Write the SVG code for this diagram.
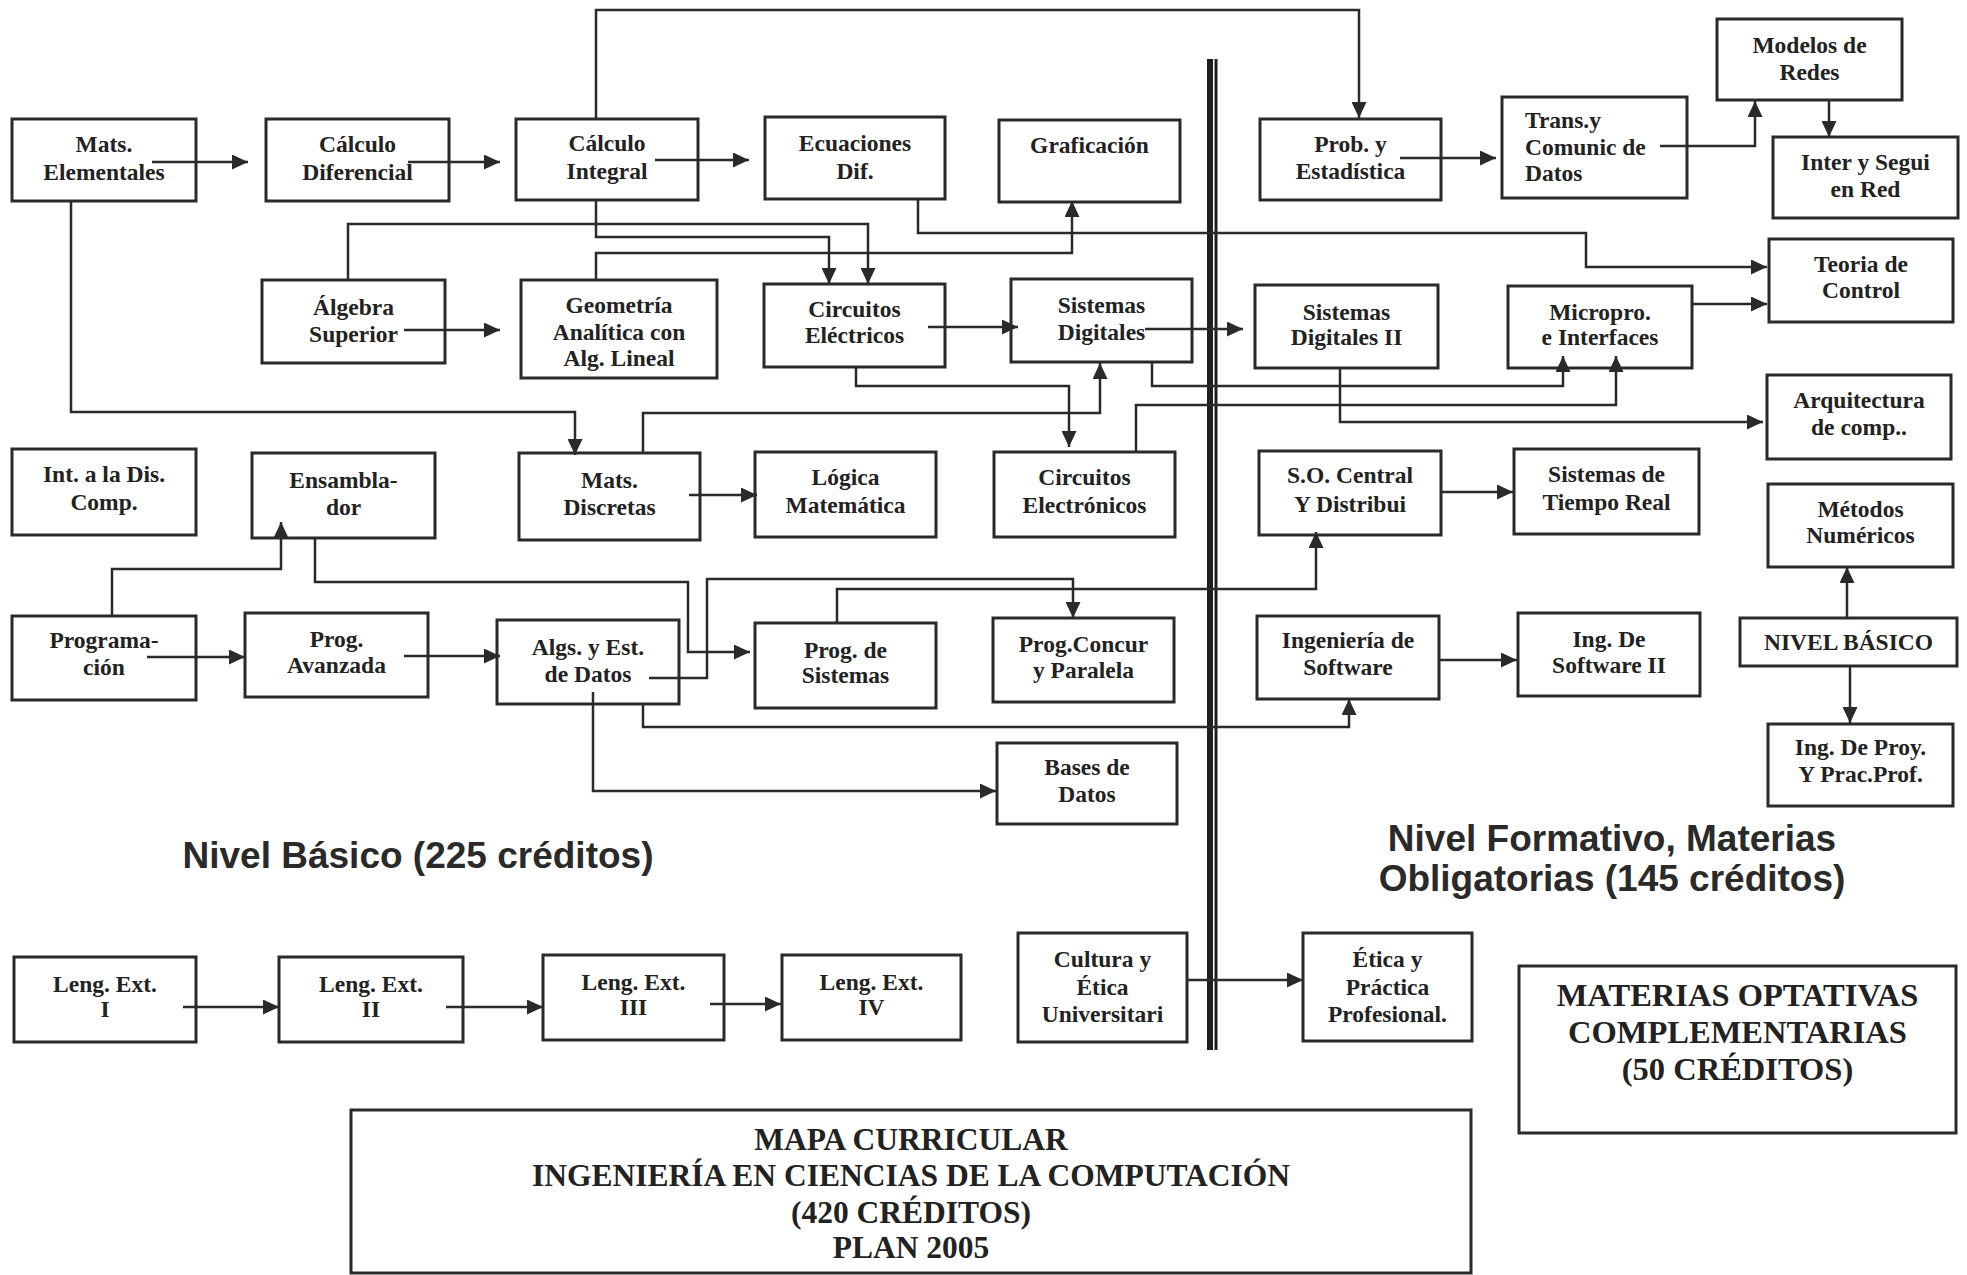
<svg xmlns="http://www.w3.org/2000/svg" width="1967" height="1275" viewBox="0 0 1967 1275">
<style>
.box{fill:none;stroke:#2a2a2a;stroke-width:3}
.t{font-family:"Liberation Serif","Times New Roman",serif;font-weight:bold;font-size:23.5px;fill:#222;text-anchor:middle}
.tl{text-anchor:start}
.big{font-family:"Liberation Serif","Times New Roman",serif;font-weight:bold;font-size:32.5px;fill:#222;text-anchor:middle}
.mp{font-size:31.5px}
.lvl{font-family:"Liberation Sans",Arial,sans-serif;font-weight:bold;font-size:37px;fill:#2a2a2a;text-anchor:middle}
.c{fill:none;stroke:#2a2a2a;stroke-width:2.5;marker-end:url(#ah)}
.div{fill:#1e1e1e}
</style>
<defs>
<marker id="ah" markerUnits="userSpaceOnUse" markerWidth="16" markerHeight="15" refX="16" refY="7.5" orient="auto">
<path d="M0,0 L16,7.5 L0,15 z" fill="#2a2a2a"/>
</marker>
</defs>
<rect width="1967" height="1275" fill="#fff"/>

<g id="divider">
<rect class="div" x="1207" y="59" width="6" height="991"/>
<rect class="div" x="1214.5" y="59" width="3" height="991"/>
</g>

<g id="connectors">
<path class="c" d="M152,162 H248"/>
<path class="c" d="M408,162 H500"/>
<path class="c" d="M655,160 H749"/>
<path class="c" d="M596,119 V10 H1359 V118"/>
<path class="c" d="M71,201 V412 H575 V455"/>
<path class="c" d="M348,280 V224 H868 V284"/>
<path class="c" d="M596,200 V237 H829 V284"/>
<path class="c" d="M596,280 V253 H1072 V201"/>
<path class="c" d="M918,199 V233 H1586 V267 H1767"/>
<path class="c" d="M928,327 H1018"/>
<path class="c" d="M1145,329 H1243"/>
<path class="c" d="M856,367 V386 H1069 V447"/>
<path class="c" d="M643,453 V413 H1100 V363"/>
<path class="c" d="M1152,362 V386 H1563 V356"/>
<path class="c" d="M1136,452 V405 H1616 V356"/>
<path class="c" d="M1340,368 V422 H1763"/>
<path class="c" d="M1692,304 H1767"/>
<path class="c" d="M1400,158 H1496"/>
<path class="c" d="M1660,146 H1755 V101"/>
<path class="c" d="M1829,100 V137"/>
<path class="c" d="M112,616 V569 H281 V522"/>
<path class="c" d="M315,538 V582 H688 V652 H750"/>
<path class="c" d="M649,678 H707 V579 H1073 V618"/>
<path class="c" d="M837,623 V589 H1316 V532"/>
<path class="c" d="M643,704 V727 H1349 V699"/>
<path class="c" d="M593,692 V791 H996"/>
<path class="c" d="M147,657 H245"/>
<path class="c" d="M404,656 H500"/>
<path class="c" d="M689,495 H757"/>
<path class="c" d="M1440,492 H1513"/>
<path class="c" d="M1440,660 H1517"/>
<path class="c" d="M1847,618 V567"/>
<path class="c" d="M1850,666 V723"/>
<path class="c" d="M183,1007 H279"/>
<path class="c" d="M446,1007 H543"/>
<path class="c" d="M710,1004 H781"/>
<path class="c" d="M1187,980 H1303"/>
<path class="c" d="M404,330 H500"/>
</g>

<g id="n-mats-elem"><rect class="box" x="12" y="119" width="184" height="82"/><text class="t" x="104" y="152">Mats.</text><text class="t" x="104" y="180">Elementales</text></g>
<g id="n-calc-dif"><rect class="box" x="266" y="119" width="183" height="82"/><text class="t" x="357.5" y="152">Cálculo</text><text class="t" x="357.5" y="180">Diferencial</text></g>
<g id="n-calc-int"><rect class="box" x="516" y="119" width="182" height="81"/><text class="t" x="607" y="151">Cálculo</text><text class="t" x="607" y="179">Integral</text></g>
<g id="n-ecuaciones"><rect class="box" x="765" y="117" width="180" height="82"/><text class="t" x="855" y="151">Ecuaciones</text><text class="t" x="855" y="179">Dif.</text></g>
<g id="n-graficacion"><rect class="box" x="999" y="120" width="181" height="82"/><text class="t" x="1089.5" y="153">Graficación</text></g>
<g id="n-prob"><rect class="box" x="1260" y="119" width="181" height="81"/><text class="t" x="1350.5" y="152">Prob. y</text><text class="t" x="1350.5" y="179">Estadística</text></g>
<g id="n-trans"><rect class="box" x="1502" y="97" width="185" height="101"/><text class="t tl" x="1525" y="128">Trans.y</text><text class="t tl" x="1525" y="155">Comunic de</text><text class="t tl" x="1525" y="181">Datos</text></g>
<g id="n-modelos"><rect class="box" x="1717" y="19" width="185" height="81"/><text class="t" x="1809.5" y="53">Modelos de</text><text class="t" x="1809.5" y="80">Redes</text></g>
<g id="n-inter"><rect class="box" x="1773" y="137" width="185" height="81"/><text class="t" x="1865.5" y="170">Inter y Segui</text><text class="t" x="1865.5" y="197">en Red</text></g>
<g id="n-teoria"><rect class="box" x="1769" y="239" width="184" height="83"/><text class="t" x="1861" y="272">Teoria de</text><text class="t" x="1861" y="298">Control</text></g>

<g id="n-algebra"><rect class="box" x="262" y="280" width="183" height="83"/><text class="t" x="353.5" y="315">Álgebra</text><text class="t" x="353.5" y="342">Superior</text></g>
<g id="n-geometria"><rect class="box" x="521" y="280" width="196" height="98"/><text class="t" x="619" y="313">Geometría</text><text class="t" x="619" y="340">Analítica  con</text><text class="t" x="619" y="366">Alg. Lineal</text></g>
<g id="n-circ-elec"><rect class="box" x="764" y="284" width="181" height="83"/><text class="t" x="854.5" y="317">Circuitos</text><text class="t" x="854.5" y="343">Eléctricos</text></g>
<g id="n-sist-dig"><rect class="box" x="1011" y="279" width="181" height="83"/><text class="t" x="1101.5" y="313">Sistemas</text><text class="t" x="1101.5" y="340">Digitales</text></g>
<g id="n-sist-dig2"><rect class="box" x="1255" y="285" width="183" height="83"/><text class="t" x="1346.5" y="320">Sistemas</text><text class="t" x="1346.5" y="345">Digitales II</text></g>
<g id="n-micropro"><rect class="box" x="1508" y="286" width="184" height="82"/><text class="t" x="1600" y="320">Micropro.</text><text class="t" x="1600" y="345">e Interfaces</text></g>
<g id="n-arquitectura"><rect class="box" x="1767" y="375" width="184" height="84"/><text class="t" x="1859" y="408">Arquitectura</text><text class="t" x="1859" y="435">de comp..</text></g>

<g id="n-int-dis"><rect class="box" x="12" y="449" width="184" height="86"/><text class="t" x="104" y="482">Int. a la Dis.</text><text class="t" x="104" y="510">Comp.</text></g>
<g id="n-ensamblador"><rect class="box" x="252" y="453" width="183" height="85"/><text class="t" x="343.5" y="488">Ensambla-</text><text class="t" x="343.5" y="515">dor</text></g>
<g id="n-mats-disc"><rect class="box" x="519" y="453" width="181" height="87"/><text class="t" x="609.5" y="488">Mats.</text><text class="t" x="609.5" y="515">Discretas</text></g>
<g id="n-logica"><rect class="box" x="755" y="452" width="181" height="85"/><text class="t" x="845.5" y="485">Lógica</text><text class="t" x="845.5" y="513">Matemática</text></g>
<g id="n-circ-electron"><rect class="box" x="994" y="452" width="181" height="85"/><text class="t" x="1084.5" y="485">Circuitos</text><text class="t" x="1084.5" y="513">Electrónicos</text></g>
<g id="n-so"><rect class="box" x="1259" y="451" width="182" height="84"/><text class="t" x="1350" y="483">S.O. Central</text><text class="t" x="1350" y="512">Y Distribui</text></g>
<g id="n-tiempo-real"><rect class="box" x="1514" y="449" width="185" height="85"/><text class="t" x="1606.5" y="482">Sistemas de</text><text class="t" x="1606.5" y="510">Tiempo Real</text></g>
<g id="n-metodos"><rect class="box" x="1768" y="484" width="185" height="83"/><text class="t" x="1860.5" y="517">Métodos</text><text class="t" x="1860.5" y="543">Numéricos</text></g>

<g id="n-programacion"><rect class="box" x="12" y="616" width="184" height="84"/><text class="t" x="104" y="648">Programa-</text><text class="t" x="104" y="675">ción</text></g>
<g id="n-prog-av"><rect class="box" x="245" y="613" width="183" height="84"/><text class="t" x="336.5" y="647">Prog.</text><text class="t" x="336.5" y="673">Avanzada</text></g>
<g id="n-algs"><rect class="box" x="497" y="620" width="182" height="84"/><text class="t" x="588" y="655">Algs. y Est.</text><text class="t" x="588" y="682">de Datos</text></g>
<g id="n-prog-sist"><rect class="box" x="755" y="623" width="181" height="85"/><text class="t" x="845.5" y="658">Prog. de</text><text class="t" x="845.5" y="683">Sistemas</text></g>
<g id="n-prog-concur"><rect class="box" x="993" y="618" width="181" height="84"/><text class="t" x="1083.5" y="652">Prog.Concur</text><text class="t" x="1083.5" y="678">y Paralela</text></g>
<g id="n-ing-soft"><rect class="box" x="1257" y="616" width="182" height="83"/><text class="t" x="1348" y="648">Ingeniería de</text><text class="t" x="1348" y="675">Software</text></g>
<g id="n-ing-soft2"><rect class="box" x="1518" y="613" width="182" height="83"/><text class="t" x="1609" y="647">Ing. De</text><text class="t" x="1609" y="673">Software II</text></g>
<g id="n-nivel-basico"><rect class="box" x="1740" y="618" width="217" height="48"/><text class="t" x="1848.5" y="650">NIVEL BÁSICO</text></g>
<g id="n-ing-proy"><rect class="box" x="1768" y="724" width="185" height="82"/><text class="t" x="1860.5" y="755">Ing. De Proy.</text><text class="t" x="1860.5" y="782">Y Prac.Prof.</text></g>
<g id="n-bases"><rect class="box" x="997" y="743" width="180" height="81"/><text class="t" x="1087" y="775">Bases de</text><text class="t" x="1087" y="802">Datos</text></g>

<g id="n-leng1"><rect class="box" x="14" y="957" width="182" height="85"/><text class="t" x="105" y="992">Leng. Ext.</text><text class="t" x="105" y="1017">I</text></g>
<g id="n-leng2"><rect class="box" x="279" y="957" width="184" height="85"/><text class="t" x="371" y="992">Leng. Ext.</text><text class="t" x="371" y="1017">II</text></g>
<g id="n-leng3"><rect class="box" x="543" y="955" width="181" height="85"/><text class="t" x="633.5" y="990">Leng. Ext.</text><text class="t" x="633.5" y="1015">III</text></g>
<g id="n-leng4"><rect class="box" x="782" y="955" width="179" height="85"/><text class="t" x="871.5" y="990">Leng. Ext.</text><text class="t" x="871.5" y="1015">IV</text></g>
<g id="n-cultura"><rect class="box" x="1018" y="933" width="169" height="109"/><text class="t" x="1102.5" y="967">Cultura y</text><text class="t" x="1102.5" y="995">Ética</text><text class="t" x="1102.5" y="1022">Universitari</text></g>
<g id="n-etica"><rect class="box" x="1303" y="933" width="169" height="108"/><text class="t" x="1387.5" y="967">Ética y</text><text class="t" x="1387.5" y="995">Práctica</text><text class="t" x="1387.5" y="1022">Profesional.</text></g>

<g id="n-optativas"><rect class="box" x="1519" y="966" width="437" height="167"/><text class="big" x="1737.5" y="1006">MATERIAS OPTATIVAS</text><text class="big" x="1737.5" y="1043">COMPLEMENTARIAS</text><text class="big" x="1737.5" y="1080">(50 CRÉDITOS)</text></g>
<g id="n-mapa"><rect class="box" x="351" y="1110" width="1120" height="163"/><text class="big mp" x="911" y="1150">MAPA CURRICULAR</text><text class="big mp" x="911" y="1186">INGENIERÍA EN CIENCIAS DE LA COMPUTACIÓN</text><text class="big mp" x="911" y="1223">(420 CRÉDITOS)</text><text class="big mp" x="911" y="1258">PLAN 2005</text></g>

<g id="labels">
<text class="lvl" x="418" y="868">Nivel Básico (225 créditos)</text>
<text class="lvl" x="1612" y="851">Nivel Formativo, Materias</text>
<text class="lvl" x="1612" y="891">Obligatorias (145 créditos)</text>
</g>
</svg>
